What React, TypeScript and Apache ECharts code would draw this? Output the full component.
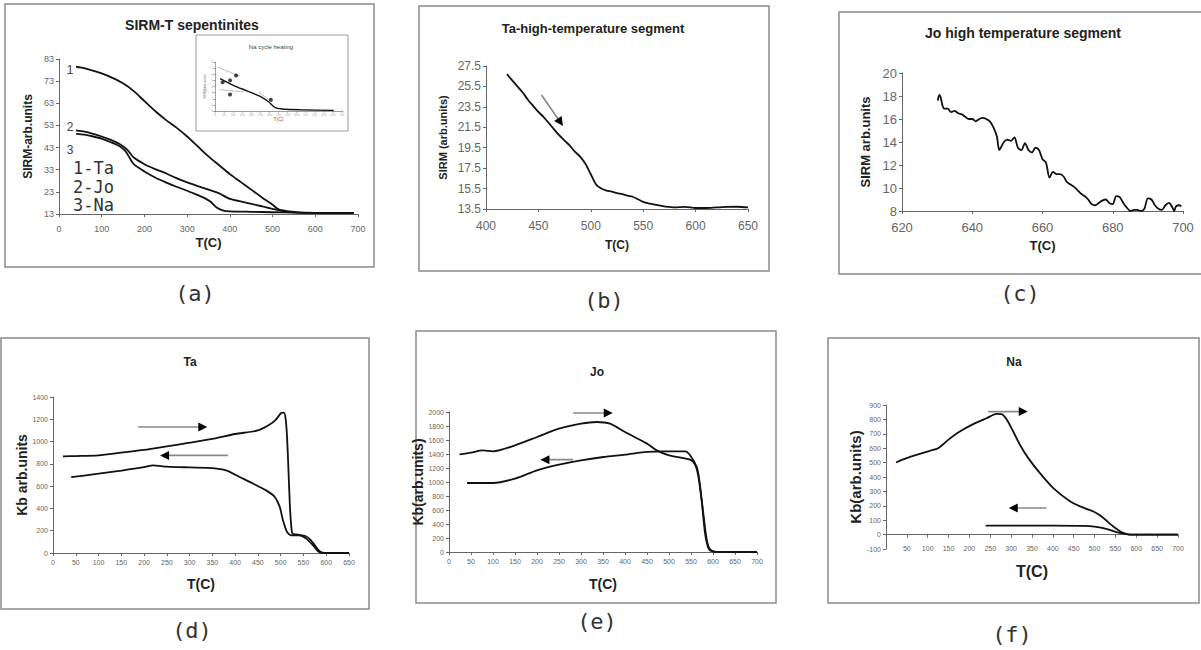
import React, { useEffect, useRef } from 'react';
import * as echarts from 'echarts';

const FONT = '"Liberation Sans", Arial, sans-serif';
const MONO = '"DejaVu Sans Mono", monospace';

// ---------- (a) SIRM-T sepentinites ----------
const aT_Ta = [40, 50, 75, 100, 125, 150, 175, 200, 225, 250, 275, 300, 325, 350, 375, 400, 425, 450, 475, 500, 510, 520, 540, 560, 600, 650, 690];
const aV_Ta = [79.5, 79.2, 78, 76.5, 74.5, 72, 68.5, 64, 59.5, 55.5, 52, 48, 43.5, 39, 35, 31, 27.5, 24, 20.5, 17.2, 15.6, 14.7, 14.2, 13.7, 13.5, 13.5, 13.5];
const aT_Jo = [40, 60, 80, 100, 120, 140, 160, 175, 200, 225, 250, 275, 300, 325, 350, 375, 400, 425, 450, 475, 500, 515, 530, 550, 580, 640, 690];
const aV_Jo = [50.8, 50.2, 49.2, 48, 46.6, 44.8, 42, 38.5, 35.5, 33.3, 31.4, 29.2, 27.3, 25.6, 24, 22.3, 19.8, 18.7, 17.6, 16.5, 15.3, 14.6, 14.1, 13.8, 13.5, 13.5, 13.5];
const aT_Na = [40, 60, 80, 100, 120, 140, 155, 165, 175, 200, 225, 250, 275, 300, 325, 340, 355, 370, 385, 400, 450, 500, 550, 600, 690];
const aV_Na = [49.2, 48.8, 48, 47, 45.5, 43.8, 41.5, 38.5, 35.5, 32.2, 29.5, 27.3, 25.3, 23.5, 21.5, 20.3, 18.5, 15.8, 14.5, 14.2, 14, 13.8, 13.6, 13.5, 13.5];
const aYTicks = { min: 13, max: 83, step: 10 };

// inset "Na cycle heating"
const insT = [28, 101, 175, 249, 295, 332, 368, 470, 654];
const insV = [5.3, 4.2, 3.3, 2.4, 1.5, 0.55, 0.33, 0.2, 0.1];
const insGray = [
  [18, 7.1, 138, 5.7],
  [28, 3.5, 157, 3.1],
  [240, 3.1, 313, 1.5],
];
const insDotsT = [116, 42, 83, 83, 308];
const insDotsV = [5.8, 4.7, 5.0, 2.7, 1.85];

// ---------- (b) Ta high-temperature segment ----------
const bT = [420, 425, 430, 435, 440, 445, 450, 455, 460, 465, 470, 475, 480, 485, 490, 495, 500, 505, 510, 515, 520, 525, 530, 535, 540, 545, 550, 555, 560, 565, 570, 575, 580, 590, 600, 610, 620, 630, 640, 650];
const bV = [26.7, 26.1, 25.5, 24.9, 24.2, 23.6, 23.0, 22.5, 21.9, 21.3, 20.7, 20.2, 19.7, 19.1, 18.6, 17.9, 16.9, 15.9, 15.5, 15.3, 15.2, 15.05, 14.95, 14.8, 14.7, 14.45, 14.2, 14.05, 13.95, 13.85, 13.75, 13.7, 13.65, 13.7, 13.6, 13.6, 13.65, 13.7, 13.72, 13.65];
const bArrow = [453, 24.66, 471, 22.0];

// ---------- (c) Jo high temperature segment ----------
const cT = [630.2, 630.6, 631, 631.5, 632, 633, 634, 635, 636, 637, 638, 639, 640, 641, 642, 643, 644, 645, 646, 647, 647.7, 648.3, 649, 650, 651, 652, 653, 654, 655, 656, 657, 658, 659, 660, 661, 662, 663, 664, 665, 666, 667, 668, 669, 670, 671, 672, 673, 674, 675, 676, 677, 678, 679, 680, 681, 682, 683, 684, 685, 686, 687, 688, 689, 690, 691, 692, 693, 694, 695, 696, 697, 697.5, 698, 699, 699.5];
const cV = [17.6, 18.1, 17.9, 17.2, 16.9, 16.9, 16.6, 16.7, 16.5, 16.4, 16.2, 16.0, 16.0, 15.8, 16.0, 16.1, 16.0, 15.8, 15.3, 14.5, 13.3, 13.6, 14.0, 14.2, 14.1, 14.4, 13.5, 13.3, 13.9, 13.3, 13.1, 13.5, 13.3, 12.5, 12.2, 10.9, 11.4, 11.2, 11.2, 11.0, 10.5, 10.3, 10.1, 9.8, 9.5, 9.3, 9.0, 8.6, 8.5, 8.7, 8.9, 9.0, 8.7, 8.6, 9.3, 9.2, 8.7, 8.3, 8.0, 8.1, 8.1, 8.0, 8.2, 9.1, 9.0, 8.5, 8.2, 8.1, 8.5, 8.7, 8.3, 8.0, 8.4, 8.5, 8.4];

// ---------- (d) Ta Kb ----------
const dT_h = [22, 50, 100, 150, 200, 250, 300, 350, 400, 450, 475, 490, 501, 507, 511, 514, 517, 520, 523, 526, 535, 545, 555, 565, 575, 583, 590, 600, 650];
const dV_h = [868, 870, 876, 900, 925, 957, 990, 1025, 1068, 1100, 1150, 1200, 1256, 1260, 1200, 1040, 750, 443, 250, 173, 167, 160, 150, 120, 69, 25, 5, 0, 0];
const dT_c = [40, 100, 150, 200, 220, 250, 300, 350, 380, 410, 440, 468, 487, 498, 505, 514, 523, 540, 556, 571, 582, 590, 600, 650];
const dV_c = [680, 712, 740, 770, 787, 775, 768, 762, 742, 682, 622, 562, 503, 413, 293, 188, 159, 159, 129, 69, 15, 2, 0, 0];
const dArrows = [[187, 1131, 329, 1131], [384, 876, 245, 876]];

// ---------- (e) Jo Kb ----------
const eT_h = [24, 50, 77, 100, 150, 200, 250, 300, 336, 366, 400, 450, 472, 500, 548, 560, 567, 575, 582, 590, 598, 620, 700];
const eV_h = [1395, 1420, 1452, 1438, 1524, 1643, 1762, 1833, 1857, 1833, 1714, 1548, 1452, 1381, 1319, 1238, 1071, 690, 262, 48, 10, 0, 0];
const eT_c = [41, 100, 150, 200, 250, 300, 351, 400, 450, 487, 537, 548, 563, 569, 578, 586, 594, 610, 700];
const eV_c = [986, 986, 1048, 1167, 1248, 1310, 1357, 1390, 1429, 1438, 1438, 1381, 1214, 1024, 548, 167, 33, 0, 0];
const eArrows = [[282, 1986, 362, 1986], [282, 1319, 218, 1319]];

// ---------- (f) Na Kb ----------
const fT_h = [24, 49, 81, 105, 125, 149, 177, 209, 241, 265, 277, 289, 305, 321, 341, 369, 401, 441, 465, 496, 516, 544, 568, 584, 600, 700];
const fV_h = [501, 531, 561, 582, 600, 658, 716, 767, 808, 838, 836, 801, 716, 624, 531, 427, 323, 231, 196, 162, 127, 58, 12, 0, 0, 0];
const fT_c = [239, 300, 400, 473, 504, 528, 552, 576, 588, 600, 700];
const fV_c = [62, 62, 62, 60, 53, 39, 18, 5, 0, 0, 0];
const fArrows = [[245, 854, 329, 854], [385, 185, 305, 185]];

const zip = (xs: number[], ys: number[]) => xs.map((x, i) => [x, ys[i]]);
const plain = (v: number) => String(v);

function xAx(gi: number, min: number, max: number, interval: number, labelSize: number, name: string, nameSize: number, nameGap: number, margin: number, extra: any = {}) {
  return {
    type: 'value', gridIndex: gi, min, max, interval,
    name, nameLocation: 'middle', nameGap,
    nameTextStyle: { fontFamily: FONT, fontWeight: 'bold', fontSize: nameSize, color: '#222' },
    axisLine: { show: true, onZero: false, lineStyle: { color: '#666', width: 1 } },
    axisTick: { show: true, length: 3, lineStyle: { color: '#666' } },
    axisLabel: { fontFamily: FONT, fontSize: labelSize, color: '#666', margin, formatter: plain },
    splitLine: { show: false },
    ...extra,
  };
}
function yAx(gi: number, min: number, max: number, interval: number, labelSize: number, name: string, nameSize: number, nameGap: number, extra: any = {}) {
  return {
    type: 'value', gridIndex: gi, min, max, interval,
    name, nameLocation: 'middle', nameGap,
    nameTextStyle: { fontFamily: FONT, fontWeight: 'bold', fontSize: nameSize, color: '#222' },
    axisLine: { show: true, onZero: false, lineStyle: { color: '#666', width: 1 } },
    axisTick: { show: true, length: 3, lineStyle: { color: '#666' } },
    axisLabel: { fontFamily: FONT, fontSize: labelSize, color: '#666', margin: 5, formatter: plain },
    splitLine: { show: false },
    ...extra,
  };
}
const line = (gi: number, xs: number[], ys: number[], extra: any = {}) => ({
  type: 'line', xAxisIndex: gi, yAxisIndex: gi, data: zip(xs, ys),
  symbol: 'none', showSymbol: false, smooth: 0.25, silent: true,
  lineStyle: { color: '#111', width: 1.8 }, ...extra,
});
const arrow = (gi: number, a: number[], rot: number) => ({
  type: 'line', xAxisIndex: gi, yAxisIndex: gi, silent: true,
  symbol: 'triangle', showSymbol: true, showAllSymbol: true,
  data: [
    { value: [a[0], a[1]], symbolSize: 0 },
    { value: [a[2], a[3]], symbolSize: 9, symbolRotate: rot, itemStyle: { color: '#000' } },
  ],
  lineStyle: { color: '#888', width: 1.6 },
  itemStyle: { color: '#000' },
});

function buildOption() {
  const frames = [
    [5, 4, 369, 263],
    [419, 6, 350, 265],
    [839, 12, 370, 262],
    [1, 338, 368, 271],
    [416, 331, 360, 272],
    [828, 338, 371, 265],
  ];
  const texts: any[] = [];
  const t = (text: string, x: number, y: number, size: number, opts: any = {}) =>
    texts.push({
      type: 'text', x, y, silent: true,
      style: { text, fontFamily: FONT, fontSize: size, fill: '#222', align: 'center', verticalAlign: 'middle', ...opts },
    });
  t('SIRM-T sepentinites', 192, 25, 14, { fontWeight: 'bold' });
  t('Ta-high-temperature segment', 593, 28, 13, { fontWeight: 'bold' });
  t('Jo high temperature segment', 1023, 33, 14, { fontWeight: 'bold' });
  t('Ta', 190, 362, 12, { fontWeight: 'bold' });
  t('Jo', 597, 372, 12, { fontWeight: 'bold' });
  t('Na', 1014, 362, 12, { fontWeight: 'bold' });
  t('Na cycle heating', 271, 47, 6, { fill: '#444' });
  // curve labels in (a)
  t('1', 70, 70, 12, { fill: '#444' });
  t('2', 70, 127, 12, { fill: '#444' });
  t('3', 70, 150, 12, { fill: '#444' });
  t('1-Ta', 73, 168, 17, { fontFamily: MONO, align: 'left', fill: '#333' });
  t('2-Jo', 73, 187, 17, { fontFamily: MONO, align: 'left', fill: '#333' });
  t('3-Na', 73, 205, 17, { fontFamily: MONO, align: 'left', fill: '#333' });
  // panel letters
  const pl = (s: string, x: number, y: number) => t(s, x, y, 22, { fontFamily: MONO, fill: '#333' });
  pl('(a)', 195, 293);
  pl('(b)', 604, 300);
  pl('(c)', 1020, 293);
  pl('(d)', 192, 630);
  pl('(e)', 597, 621);
  pl('(f)', 1012, 634);

  const graphic: any[] = [
    ...frames.map((f) => ({
      type: 'rect', silent: true, z: -1,
      shape: { x: f[0], y: f[1], width: f[2], height: f[3] },
      style: { fill: 'none', stroke: '#8a8a8a', lineWidth: 1.5 },
    })),
    {
      type: 'rect', silent: true,
      shape: { x: 196, y: 35, width: 152, height: 96 },
      style: { fill: '#fff', stroke: '#999', lineWidth: 1 },
      z: 0,
    },
    ...texts,
  ];

  const grid = [
    { left: 59, top: 59, width: 299, height: 155 },
    { left: 215, top: 62, width: 127, height: 49 },
    { left: 486, top: 66, width: 262, height: 143 },
    { left: 902, top: 73, width: 281, height: 138 },
    { left: 53, top: 397, width: 296, height: 156 },
    { left: 449, top: 412, width: 308, height: 140 },
    { left: 886, top: 405, width: 292, height: 144 },
  ];

  const insetAxisStyle = {
    axisLine: { show: true, onZero: false, lineStyle: { color: '#888', width: 0.8 } },
    axisTick: { show: true, length: 1.5, lineStyle: { color: '#888' } },
  };

  const xAxis = [
    xAx(0, 0, 700, 100, 9, 'T(C)', 13, 22, 10),
    xAx(1, 0, 700, 50, 3, 'T(C)', 5, 5, 2, { ...insetAxisStyle, axisLabel: { fontSize: 3, color: '#aaa', margin: 2, formatter: plain }, nameTextStyle: { fontSize: 5, color: '#666' } }),
    xAx(2, 400, 650, 50, 12, 'T(C)', 12, 30, 11),
    xAx(3, 620, 700, 20, 13, 'T(C)', 13, 28, 10),
    xAx(4, 0, 650, 50, 7, 'T(C)', 14, 24, 6),
    xAx(5, 0, 700, 50, 7, 'T(C)', 14, 25, 6),
    xAx(6, 0, 700, 50, 7, 'T(C)', 16, 14, -4, {
      axisLine: { show: true, onZero: true, lineStyle: { color: '#666', width: 1 } },
      axisLabel: { fontFamily: FONT, fontSize: 7, color: '#666', margin: -4, formatter: (v: number) => (v === 0 ? '' : String(v)) },
    }),
  ];
  const yAxis = [
    yAx(0, aYTicks.min, aYTicks.max, aYTicks.step, 9, 'SIRM-arb.units', 12, 25),
    yAx(1, 0, 8, 1, 3, 'SIRM(arb.units)', 3.5, 5, { ...insetAxisStyle, axisLabel: { fontSize: 3, color: '#aaa', margin: 2, formatter: plain }, nameTextStyle: { fontSize: 3.5, color: '#666' } }),
    yAx(2, 13.5, 27.5, 2, 12, 'SIRM (arb.units)', 11, 38),
    yAx(3, 8, 20, 2, 13, 'SIRM arb.units', 13, 30),
    yAx(4, 0, 1400, 200, 7, 'Kb arb.units', 14, 22),
    yAx(5, 0, 2000, 200, 7, 'Kb(arb.units)', 14, 19),
    yAx(6, -100, 900, 100, 7, 'Kb(arb.units)', 15, 22),
  ];

  const series: any[] = [
    line(0, aT_Ta, aV_Ta),
    line(0, aT_Jo, aV_Jo),
    line(0, aT_Na, aV_Na),
    line(1, insT, insV, { lineStyle: { color: '#111', width: 1.4 }, z: 5 }),
    ...insGray.map((g) => ({
      type: 'line', xAxisIndex: 1, yAxisIndex: 1, silent: true, symbol: 'none',
      data: [[g[0], g[1]], [g[2], g[3]]], lineStyle: { color: '#aaa', width: 0.8 }, z: 5,
    })),
    {
      type: 'scatter', xAxisIndex: 1, yAxisIndex: 1, silent: true, symbolSize: 4,
      data: zip(insDotsT, insDotsV), itemStyle: { color: '#111' }, z: 6,
    },
    line(2, bT, bV),
    arrow(2, bArrow, -146),
    line(3, cT, cV, { smooth: 0.3 }),
    line(4, dT_h, dV_h),
    line(4, dT_c, dV_c),
    arrow(4, dArrows[0], -90),
    arrow(4, dArrows[1], 90),
    line(5, eT_h, eV_h),
    line(5, eT_c, eV_c),
    arrow(5, eArrows[0], -90),
    arrow(5, eArrows[1], 90),
    line(6, fT_h, fV_h),
    line(6, fT_c, fV_c),
    arrow(6, fArrows[0], -90),
    arrow(6, fArrows[1], 90),
  ];

  return {
    animation: false,
    backgroundColor: '#ffffff',
    textStyle: { fontFamily: FONT },
    grid,
    xAxis,
    yAxis,
    series,
    graphic,
  };
}

export default function App() {
  const ref = useRef<HTMLDivElement>(null);
  useEffect(() => {
    const chart = echarts.init(ref.current!, null, { renderer: 'svg' });
    chart.setOption(buildOption() as any);
    return () => chart.dispose();
  }, []);
  return (
    <div
      ref={ref}
      style={{ position: 'absolute', left: 0, top: 0, width: 1201, height: 650, background: '#fff' }}
    />
  );
}
